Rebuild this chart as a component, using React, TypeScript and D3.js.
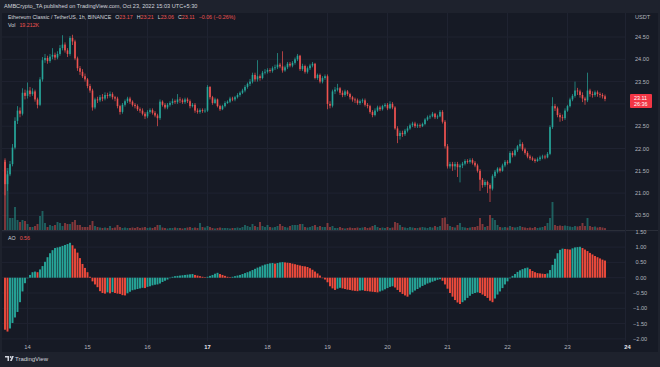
import React from 'react';
import * as d3 from 'd3';

// ---- Data (ETC/USDT 1h, Oct 13 15:00 -> Oct 23 15:00) ----
const firstOpen = 21.7;
const closes = [
  21.20, 21.42, 21.65, 22.02, 22.62, 22.85, 22.78, 23.25, 23.18, 23.30,
  23.22, 23.28, 23.10, 22.98, 23.55, 23.98, 24.03, 23.96, 24.06, 24.10,
  24.04, 24.12, 24.25, 24.33, 24.20, 24.12, 24.48, 24.40, 24.02, 23.80,
  23.72, 23.62, 23.55, 23.40, 23.30, 22.92, 23.10, 23.08, 23.15, 23.12,
  23.20, 23.18, 23.22, 23.15, 23.12, 22.95, 22.82, 22.98, 23.06, 23.12,
  23.05, 22.98, 22.95, 22.88, 22.85, 22.78, 22.72, 22.82, 22.86, 22.80,
  22.74, 22.68, 23.05, 22.98, 22.92, 22.98, 23.02, 23.06, 23.04, 23.10,
  23.08, 23.04, 23.10, 23.06, 22.95, 22.98, 22.85, 22.82, 22.86, 22.84,
  22.85, 23.38, 23.15, 23.02, 23.10, 22.95, 22.88, 22.95, 23.02, 23.05,
  23.12, 23.10, 23.15, 23.20, 23.25, 23.30, 23.38, 23.45, 23.50, 23.65,
  23.55, 23.62, 23.58, 23.70, 23.72, 23.76, 23.74, 23.80, 23.82, 23.88,
  23.84, 23.75, 23.82, 23.90, 23.86, 23.92, 24.00, 24.08, 23.78, 23.85,
  23.72, 23.80, 23.86, 23.90, 23.58, 23.65, 23.50, 23.58, 23.62, 23.00,
  22.96, 23.28, 23.32, 23.35, 23.25, 23.20, 23.28, 23.22, 23.15, 23.10,
  23.08, 23.02, 23.06, 23.08, 22.98, 22.95, 22.82, 22.75, 22.85, 22.92,
  22.88, 22.95, 22.98, 22.90, 23.00, 22.92, 22.45, 22.28, 22.35, 22.32,
  22.40, 22.45, 22.52, 22.56, 22.50, 22.52, 22.50, 22.55, 22.65, 22.70,
  22.72, 22.78, 22.70, 22.72, 22.82, 22.60, 22.05, 21.60, 21.65, 21.60,
  21.65, 21.58, 21.62, 21.66, 21.72, 21.70, 21.74, 21.68, 21.62, 21.50,
  21.30, 21.18, 21.25, 21.18, 21.10, 21.38, 21.48, 21.55, 21.50, 21.62,
  21.70, 21.68, 21.90, 21.85, 21.96, 22.05, 22.10, 21.98, 21.90, 21.82,
  21.78, 21.75, 21.72, 21.76, 21.80, 21.82, 21.80, 21.88, 22.48, 22.95,
  22.90, 22.75, 22.70, 22.68, 22.85, 22.95, 23.10, 23.18, 23.30, 23.28,
  23.20, 23.12, 23.08, 23.30, 23.22, 23.20, 23.26, 23.22, 23.20, 23.17,
  23.11,
];
const highs = [
  21.78, 21.50, 21.72, 22.10, 22.70, 22.95, 22.92, 23.35, 23.32, 23.48,
  23.38, 23.35, 23.32, 23.14, 23.60, 24.05, 24.12, 24.08, 24.12, 24.25,
  24.15, 24.18, 24.32, 24.54, 24.38, 24.25, 24.52, 24.55, 24.44, 24.06,
  23.85, 23.78, 23.68, 23.58, 23.45, 23.34, 23.14, 23.16, 23.20, 23.22,
  23.26, 23.25, 23.28, 23.26, 23.18, 23.16, 22.98, 23.02, 23.10, 23.16,
  23.16, 23.08, 23.02, 22.99, 22.92, 22.90, 22.82, 22.86, 22.90, 22.90,
  22.84, 22.78, 23.10, 23.08, 23.02, 23.02, 23.06, 23.12, 23.10, 23.22,
  23.15, 23.12, 23.14, 23.14, 23.10, 23.02, 23.02, 22.90, 22.90, 22.90,
  22.90, 23.42, 23.40, 23.18, 23.14, 23.12, 22.98, 22.98, 23.06, 23.08,
  23.16, 23.16, 23.18, 23.24, 23.28, 23.34, 23.42, 23.48, 23.56, 23.70,
  23.70, 23.98, 23.66, 23.74, 23.78, 23.80, 23.80, 23.84, 23.88, 24.14,
  23.92, 24.18, 23.86, 23.94, 23.94, 23.96, 24.04, 24.12, 24.10, 23.90,
  23.88, 23.84, 23.90, 23.94, 23.92, 23.68, 23.68, 23.62, 23.66, 23.66,
  23.06, 23.32, 23.38, 23.45, 23.38, 23.30, 23.32, 23.31, 23.25, 23.18,
  23.14, 23.12, 23.10, 23.12, 23.12, 23.02, 22.98, 22.86, 22.90, 22.96,
  22.96, 22.98, 23.02, 23.02, 23.06, 23.04, 22.95, 22.50, 22.40, 22.40,
  22.44, 22.50, 22.56, 22.60, 22.60, 22.56, 22.56, 22.58, 22.68, 22.74,
  22.76, 22.82, 22.80, 22.76, 22.86, 22.86, 22.64, 22.10, 21.70, 21.70,
  21.70, 21.70, 21.66, 21.70, 21.76, 21.76, 21.78, 21.78, 21.72, 21.66,
  21.54, 21.34, 21.30, 21.28, 21.22, 21.42, 21.52, 21.58, 21.58, 21.66,
  21.74, 21.74, 21.94, 21.94, 22.00, 22.08, 22.20, 22.14, 22.02, 21.94,
  21.86, 21.82, 21.78, 21.80, 21.84, 21.86, 21.86, 21.92, 22.52, 23.15,
  23.00, 22.94, 22.80, 22.76, 22.90, 22.98, 23.14, 23.22, 23.50, 23.36,
  23.32, 23.26, 23.16, 23.70, 23.34, 23.28, 23.30, 23.30, 23.26, 23.24,
  23.21,
];
const lows = [
  20.95, 21.05, 21.38, 21.60, 21.98, 22.55, 22.70, 22.74, 23.10, 23.12,
  23.16, 23.18, 23.05, 22.90, 22.95, 23.50, 23.92, 23.90, 23.92, 24.00,
  23.98, 24.00, 24.08, 24.20, 24.15, 24.05, 24.08, 24.32, 23.98, 23.74,
  23.65, 23.58, 23.50, 23.35, 23.25, 22.85, 22.88, 23.02, 23.04, 23.06,
  23.08, 23.12, 23.14, 23.10, 23.06, 22.90, 22.76, 22.78, 22.94, 23.02,
  23.00, 22.94, 22.90, 22.84, 22.80, 22.74, 22.66, 22.68, 22.78, 22.76,
  22.70, 22.50, 22.64, 22.94, 22.88, 22.88, 22.94, 22.98, 23.00, 23.00,
  23.02, 23.00, 23.00, 23.02, 22.90, 22.92, 22.80, 22.78, 22.78, 22.80,
  22.80, 22.82, 23.10, 22.98, 23.00, 22.92, 22.84, 22.86, 22.92, 23.00,
  23.02, 23.06, 23.06, 23.12, 23.16, 23.22, 23.26, 23.34, 23.40, 23.46,
  23.50, 23.50, 23.52, 23.55, 23.66, 23.68, 23.70, 23.70, 23.76, 23.78,
  23.80, 23.70, 23.72, 23.78, 23.82, 23.82, 23.88, 23.96, 23.74, 23.74,
  23.68, 23.68, 23.76, 23.82, 23.55, 23.54, 23.46, 23.46, 23.54, 22.88,
  22.90, 22.92, 23.22, 23.28, 23.20, 23.15, 23.16, 23.18, 23.10, 23.05,
  23.02, 22.98, 22.98, 23.02, 22.94, 22.90, 22.78, 22.70, 22.72, 22.82,
  22.84, 22.85, 22.92, 22.86, 22.88, 22.88, 22.42, 22.12, 22.20, 22.26,
  22.28, 22.36, 22.42, 22.48, 22.46, 22.46, 22.46, 22.48, 22.52, 22.62,
  22.66, 22.70, 22.66, 22.66, 22.70, 22.56, 22.00, 21.55, 21.55, 21.50,
  21.52, 21.36, 21.24, 21.56, 21.62, 21.66, 21.66, 21.64, 21.58, 21.46,
  21.05, 21.12, 21.14, 21.00, 20.80, 21.06, 21.34, 21.44, 21.46, 21.48,
  21.58, 21.64, 21.66, 21.80, 21.82, 21.92, 22.00, 21.94, 21.86, 21.78,
  21.74, 21.72, 21.68, 21.70, 21.72, 21.76, 21.76, 21.78, 21.85, 22.44,
  22.84, 22.70, 22.60, 22.62, 22.64, 22.82, 22.92, 23.06, 23.14, 23.20,
  23.14, 23.04, 22.98, 23.04, 23.16, 23.14, 23.16, 23.16, 23.14, 23.12,
  23.06,
];
// volume in thousands of ETC
const volumes = [
  700, 620, 120, 120, 230, 100, 80, 100, 90, 60,
  30, 30, 40, 60, 140, 190, 70, 30, 50, 40,
  50, 80, 70, 40, 70, 60, 60, 80, 100, 50,
  50, 30, 30, 30, 50, 90, 40, 30, 25, 20,
  25, 20, 40, 20, 25, 50, 30, 20, 25, 20,
  20, 25, 20, 30, 20, 25, 30, 20, 25, 20,
  30, 50, 50, 25, 20, 15, 20, 20, 25, 20,
  20, 15, 20, 25, 30, 20, 25, 20, 70, 30,
  25, 40, 30, 20, 15, 20, 25, 20, 20, 20,
  15, 20, 20, 25, 20, 30, 50, 40, 30, 60,
  40, 30, 80, 40, 30, 50, 30, 25, 30, 40,
  60, 40, 30, 25, 40, 50, 50, 50, 60, 60,
  30, 25, 30, 40, 50, 30, 40, 30, 30, 70,
  30, 40, 20, 20, 30, 20, 15, 20, 25, 20,
  20, 25, 20, 25, 30, 20, 25, 40, 50, 30,
  20, 25, 20, 30, 20, 25, 80, 70, 50, 30,
  25, 20, 30, 25, 20, 20, 25, 30, 25, 20,
  30, 25, 40, 30, 40, 120, 125, 60, 40, 30,
  25, 50, 70, 30, 25, 20, 25, 30, 30, 40,
  120, 60, 30, 40, 150, 120, 100, 50, 30, 25,
  30, 25, 40, 30, 25, 30, 40, 30, 25, 20,
  25, 20, 30, 20, 25, 30, 40, 70, 120, 280,
  50, 40, 45, 40, 45, 40, 35, 30, 40, 35,
  40, 70, 40, 120, 40, 30, 35, 25, 30, 25,
  19.212,
];
const aoValues = [
  -1.70, -1.76, -1.66, -1.48, -1.30, -1.12, -0.80, -0.45, -0.18, -0.02,
  0.09, 0.18, 0.20, 0.18, 0.27, 0.38, 0.52, 0.67, 0.80, 0.90,
  0.97, 0.99, 1.01, 1.04, 1.07, 1.10, 1.14, 1.06, 0.95, 0.82,
  0.64, 0.45, 0.32, 0.18, 0.03, -0.12, -0.22, -0.31, -0.44, -0.50,
  -0.52, -0.48, -0.51, -0.47, -0.50, -0.52, -0.53, -0.57, -0.58, -0.51,
  -0.46, -0.41, -0.39, -0.37, -0.35, -0.33, -0.34, -0.30, -0.28, -0.25,
  -0.23, -0.22, -0.19, -0.14, -0.10, -0.06, -0.01, 0.03, 0.05, 0.06,
  0.07, 0.08, 0.09, 0.10, 0.11, 0.12, 0.09, 0.07, 0.05, 0.03,
  0.01, 0.03, 0.06, 0.09, 0.13, 0.16, 0.12, 0.09, 0.06, 0.03,
  0.01, 0.03, 0.05, 0.07, 0.09, 0.12, 0.15, 0.18, 0.21, 0.25,
  0.29, 0.33, 0.36, 0.40, 0.43, 0.45, 0.47, 0.48, 0.46, 0.48,
  0.50, 0.51, 0.50, 0.49, 0.48, 0.46, 0.44, 0.42, 0.40, 0.38,
  0.37, 0.35, 0.31, 0.26, 0.20, 0.14, 0.07, 0.00, -0.06, -0.15,
  -0.28, -0.35, -0.40, -0.36, -0.33, -0.35, -0.37, -0.39, -0.40, -0.42,
  -0.43, -0.44, -0.42, -0.41, -0.43, -0.44, -0.45, -0.46, -0.47, -0.48,
  -0.45, -0.42, -0.38, -0.34, -0.30, -0.28, -0.32, -0.40, -0.47, -0.53,
  -0.58, -0.62, -0.55, -0.48, -0.42, -0.37, -0.32, -0.27, -0.23, -0.19,
  -0.16, -0.13, -0.10, -0.07, -0.05, -0.10, -0.22, -0.36, -0.50, -0.62,
  -0.73, -0.81, -0.86, -0.80, -0.74, -0.66, -0.59, -0.53, -0.50, -0.48,
  -0.50, -0.55, -0.60, -0.66, -0.75, -0.80, -0.68, -0.55, -0.45, -0.34,
  -0.22, -0.12, -0.02, 0.06, 0.12, 0.19, 0.24, 0.28, 0.31, 0.33,
  0.28, 0.22, 0.18, 0.15, 0.14, 0.13, 0.12, 0.14, 0.25, 0.42,
  0.62, 0.80, 0.91, 0.95, 0.94, 0.93, 0.92, 0.96, 0.99, 1.00,
  1.01, 0.97, 0.92, 0.87, 0.81, 0.76, 0.71, 0.67, 0.63, 0.59,
  0.56,
];
const dayLabels = ['14', '15', '16', '17', '18', '19', '20', '21', '22', '23', '24'];
const weekStartDays = ['17', '24'];
const firstDayIndex = 9; // bar index of Oct 14 00:00
const barsPerDay = 24;
const priceTicks = [24.5, 24.0, 23.5, 23.0, 22.5, 22.0, 21.5, 21.0, 20.5];
const aoTicks = [1.5, 1.0, 0.5, 0.0, -0.5, -1.0, -1.5, -2.0];

const headerText = 'AMBCrypto_TA published on TradingView.com, Oct 23, 2022 15:03 UTC+5:30';
const symbolText = 'Ethereum Classic / TetherUS, 1h, BINANCE';
const ohlcLabels = [
  ['O', '23.17'],
  ['H', '23.21'],
  ['L', '23.06'],
  ['C', '23.11'],
];
const changeText = '\u22120.06 (\u22120.26%)';
const volText = '19.212K';
const aoText = '0.56';
const lastPrice = 23.11;
const countdown = '26:36';

const UP = '#26a69a';
const DOWN = '#ef5350';
const AO_UP = '#26a69a';
const AO_DOWN = '#f04b3c';
const FONT = "'Liberation Sans', Arial, sans-serif";

export default function App() {
  const n = closes.length;
  const opens = closes.map((c, i) => (i === 0 ? firstOpen : closes[i - 1]));

  const plotL = 2;
  const plotR = 625;
  const priceTop = 13;
  const priceBottom = 230;
  const aoTop = 231;
  const aoBottom = 341;

  const x = d3.scaleLinear().domain([0, n - 1]).range([5, 605]);
  const y = d3.scaleLinear().domain([20.5, 24.5]).range([215.4, 37]);
  const yVol = d3.scaleLinear().domain([0, 700]).range([priceBottom, priceBottom - 70]);
  const yAO = d3.scaleLinear().domain([-2, 1.5]).range([338.9, 231.8]);

  const bodyW = 1.6;
  const barW = 1.9;

  const dayXs = dayLabels.map((d, k) => ({ d, x: x(firstDayIndex + k * barsPerDay) }));

  const txt = '#b2b5be';
  const grid = '#1f2331';

  return (
    <svg width={660} height={367} style={{ position: 'absolute', left: 0, top: 0 }} fontFamily={FONT}>
      <defs>
        <clipPath id="pricePane">
          <rect x={plotL} y={priceTop} width={plotR - plotL} height={priceBottom - priceTop} />
        </clipPath>
        <clipPath id="aoPane">
          <rect x={plotL} y={aoTop} width={plotR - plotL} height={aoBottom - aoTop} />
        </clipPath>
      </defs>
      <rect x={0} y={0} width={660} height={367} fill="#1e222d" />
      <rect x={plotL} y={priceTop} width={656} height={352 - priceTop} fill="#161a25" />

      {/* header */}
      <text x={4} y={8} fontSize={5.6} fill="#d1d4dc">{headerText}</text>

      {/* grid */}
      {dayXs.map(({ d, x: dx }) =>
        dx < plotR ? <line key={'vg' + d} x1={dx} x2={dx} y1={priceTop} y2={aoBottom} stroke={grid} strokeWidth={1} /> : null
      )}
      {priceTicks.map((p) => (
        <line key={'hg' + p} x1={plotL} x2={plotR} y1={y(p)} y2={y(p)} stroke={grid} strokeWidth={1} />
      ))}
      {aoTicks.map((v) => (
        <line key={'ag' + v} x1={plotL} x2={plotR} y1={yAO(v)} y2={yAO(v)} stroke={grid} strokeWidth={1} />
      ))}

      {/* volume */}
      <g clipPath="url(#pricePane)">
        {volumes.map((v, i) => {
          const up = closes[i] >= opens[i];
          return (
            <rect
              key={'v' + i}
              x={x(i) - barW / 2}
              y={yVol(v)}
              width={barW}
              height={priceBottom - yVol(v)}
              fill={up ? UP : DOWN}
              opacity={0.5}
            />
          );
        })}
        {/* candles */}
        {closes.map((c, i) => {
          const o = opens[i];
          const up = c >= o;
          const col = up ? UP : DOWN;
          const top = y(Math.max(o, c));
          const bot = y(Math.min(o, c));
          return (
            <g key={'c' + i}>
              <line x1={x(i)} x2={x(i)} y1={y(highs[i])} y2={y(lows[i])} stroke={col} strokeWidth={0.7} />
              <rect x={x(i) - bodyW / 2} y={top} width={bodyW} height={Math.max(0.8, bot - top)} fill={col} />
            </g>
          );
        })}
      </g>

      {/* pane separator */}
      <line x1={plotL} x2={658} y1={priceBottom + 0.5} y2={priceBottom + 0.5} stroke="#2a2e39" strokeWidth={1} />
      <line x1={plotR + 0.5} x2={plotR + 0.5} y1={priceTop} y2={aoBottom} stroke="#1f2331" strokeWidth={1} />

      {/* AO */}
      <g clipPath="url(#aoPane)">
        {aoValues.map((v, i) => {
          const up = i > 0 && v >= aoValues[i - 1];
          const y0 = yAO(0);
          const yv = yAO(v);
          return (
            <rect
              key={'ao' + i}
              x={x(i) - barW / 2}
              y={Math.min(y0, yv)}
              width={barW}
              height={Math.max(0.5, Math.abs(yv - y0))}
              fill={up ? AO_UP : AO_DOWN}
            />
          );
        })}
      </g>

      {/* legends */}
      <text x={8} y={19} fontSize={5.3}>
        <tspan fill="#d1d4dc">{symbolText}</tspan>
        {ohlcLabels.map(([k, v]) => (
          <React.Fragment key={k}>
            <tspan fill="#d1d4dc" dx={4}>{k}</tspan>
            <tspan fill={DOWN}>{v}</tspan>
          </React.Fragment>
        ))}
        <tspan fill={DOWN} dx={4}>{changeText}</tspan>
      </text>
      <text x={8} y={27} fontSize={5.3}>
        <tspan fill="#d1d4dc">Vol</tspan>
        <tspan fill={DOWN} dx={4}>{volText}</tspan>
      </text>
      <text x={8} y={240} fontSize={5.3}>
        <tspan fill="#d1d4dc">AO</tspan>
        <tspan fill={DOWN} dx={4}>{aoText}</tspan>
      </text>

      {/* price axis */}
      <text x={635} y={19} fontSize={5.6} fill={txt}>USDT</text>
      {priceTicks.map((p) => (
        <text key={'pt' + p} x={635} y={y(p) + 2} fontSize={5.6} fill={txt}>{p.toFixed(2)}</text>
      ))}
      <rect x={630} y={y(lastPrice) - 5} width={22} height={14} rx={1} fill="#f23645" />
      <text x={634} y={y(lastPrice) + 1.5} fontSize={5.4} fill="#ffffff">{lastPrice.toFixed(2)}</text>
      <text x={634} y={y(lastPrice) + 7.5} fontSize={5.4} fill="#ffffff">{countdown}</text>

      {/* AO axis */}
      {aoTicks.map((v) => (
        <text key={'at' + v} x={v < 0 ? 633 : 635.5} y={yAO(v) + 2} fontSize={5.6} fill={txt}>
          {v < 0 ? '\u2212' + Math.abs(v).toFixed(2) : v.toFixed(2)}
        </text>
      ))}

      {/* time axis */}
      {dayXs.map(({ d, x: dx }) => (
        <text
          key={'t' + d}
          x={dx}
          y={349}
          fontSize={5.8}
          textAnchor="middle"
          fill={weekStartDays.includes(d) ? '#e8eaf0' : txt}
          fontWeight={weekStartDays.includes(d) ? 700 : 400}
        >
          {d}
        </text>
      ))}

      {/* footer logo */}
      <g transform="translate(5,356)">
        <path d="M0 0 H4 V5 H2.5 V1.5 H0 Z" fill="#d1d4dc" />
        <circle cx={5.6} cy={1} r={0.9} fill="#d1d4dc" />
        <path d="M5 5 L7 0 H8.8 L6.8 5 Z" fill="#d1d4dc" />
      </g>
      <text x={15} y={361} fontSize={6} fill="#d1d4dc">TradingView</text>
    </svg>
  );
}
